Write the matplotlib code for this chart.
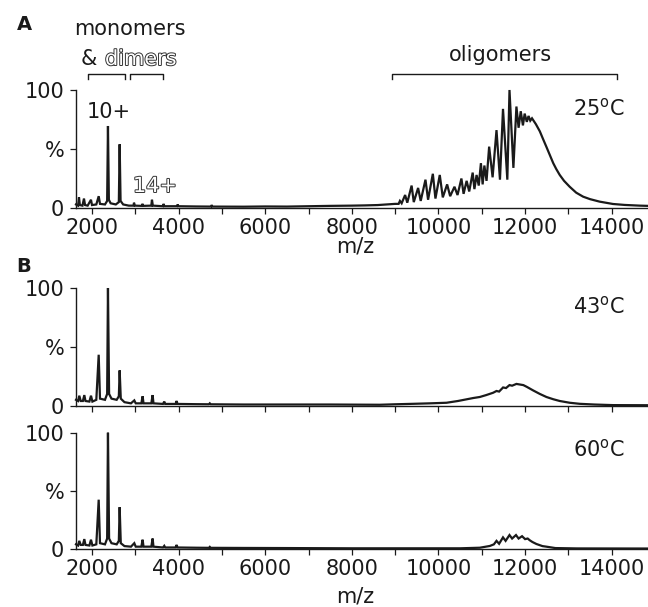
import matplotlib
matplotlib.use("Agg")
import matplotlib.pyplot as plt
import matplotlib.patheffects as pe
import matplotlib.transforms as mtransforms

plt.rcParams['font.family'] = ['DejaVu Sans']

# ---------------- data ----------------
# Panel A : 25 C
A_MZ = [1631, 1680, 1700, 1720, 1780, 1815, 1840, 1900, 1977, 2000, 2100, 2155, 2185,
        2300, 2350, 2369, 2390, 2430, 2550, 2620, 2639, 2660, 2720, 2850, 2960, 2970,
        2990, 3150, 3165, 3185, 3370, 3385, 3405, 3640, 3654, 3670, 3965, 3977, 3995,
        4400, 4750, 4765, 4780, 5500, 6000, 6500, 7000, 7500, 8000, 8300, 8600, 8800,
        9000, 9080, 9110, 9150, 9230, 9280, 9380, 9430, 9530, 9590, 9700, 9760, 9870,
        9930, 10030, 10100, 10200, 10270, 10370, 10440, 10530, 10580, 10650, 10710,
        10790, 10830, 10880, 10930, 10980, 11020, 11060, 11110, 11170, 11250, 11340,
        11420, 11490, 11590, 11640, 11730, 11800, 11850, 11900, 11950, 11990, 12040,
        12080, 12120, 12160, 12250, 12340, 12420, 12490, 12570, 12650, 12720, 12800,
        12900, 13030, 13180, 13340, 13500, 13720, 14030, 14300, 14650, 14838]
A_INT = [3, 2, 9, 2.5, 2, 8, 2.5, 2, 7, 2.5, 3, 10, 3.5,
         3, 6, 69.5, 7, 4, 3, 5, 54, 6, 3, 2, 2, 4.5,
         2, 1.8, 3.5, 1.8, 2, 7, 2, 1.5, 3.5, 1.5, 1.5, 3, 1.5,
         1.3, 1.2, 2.5, 1.2, 1.1, 1.3, 1.2, 1.5, 1.8, 2, 2.2, 2.5, 3,
         3.5, 3.5, 6, 4, 11, 4.5, 19, 5, 17, 6, 24, 7, 29,
         8, 28, 9, 20, 10, 18, 11, 25, 12, 23, 14,
         30, 16, 28, 19, 38, 20, 36, 23, 52, 26, 66,
         24, 84, 24, 100, 34, 86, 68, 82, 70, 80, 73,
         78, 74, 76, 71, 65, 58, 52, 45, 38, 33, 28,
         23, 18, 13, 9.6, 7.5, 5.4, 3.4, 2.6, 2, 1.8]

# Panel B : 43 C
B_MZ = [1631, 1680, 1707, 1740, 1790, 1823, 1850, 1940, 1977, 2010, 2100, 2155, 2185,
        2300, 2350, 2369, 2395, 2450, 2570, 2620, 2639, 2665, 2750, 2900, 2977, 3010,
        3140, 3169, 3190, 3370, 3400, 3420, 3640, 3669, 3690, 3930, 3954, 3975, 4400,
        4700, 4720, 4740, 5500, 6500, 7500, 8646, 9000, 9415, 9800, 10185, 10450, 10646,
        10800, 10954, 11100, 11262, 11340, 11400, 11492, 11560, 11640, 11700, 11800,
        11880, 11960, 12040, 12185, 12340, 12493, 12650, 12800, 13030, 13262, 13600,
        14031, 14838]
B_INT = [5, 4, 8.5, 4, 4, 9, 4, 3.5, 8.5, 3.5, 5, 43.3, 6,
         5, 10, 100, 10, 6, 5, 8, 30, 6, 3, 2, 4.5, 2,
         2, 8, 2, 2, 9, 2, 1.5, 3.5, 1.5, 1.5, 4, 1.5, 1.3,
         1.2, 2, 1.2, 1, 1, 1, 0.8, 1.2, 1.6, 2, 2.5, 4, 5.4,
         6.5, 7.4, 9, 11, 12.5, 12, 15.5, 15, 17.5, 17, 18.5,
         18, 17.5, 16, 13, 10, 7.4, 5.5, 4, 2.5, 1.6, 1,
         0.5, 0.4]

# Panel C : 60 C
C_MZ = [1631, 1680, 1707, 1740, 1790, 1823, 1850, 1940, 1977, 2010, 2100, 2155, 2185,
        2300, 2350, 2369, 2395, 2450, 2570, 2620, 2639, 2665, 2750, 2900, 2977, 3010,
        3140, 3169, 3190, 3370, 3400, 3420, 3640, 3669, 3690, 3930, 3954, 3975, 4400,
        4700, 4720, 4740, 5500, 6500, 8000, 10500, 10954, 11185, 11280, 11340, 11400,
        11490, 11550, 11640, 11700, 11790, 11850, 11930, 12000, 12060, 12108, 12170,
        12262, 12400, 12493, 12700, 13200, 14838]
C_INT = [4, 3, 7, 3.5, 3.5, 8.5, 3.5, 3, 8, 3, 4, 42.4, 5,
         4, 9, 100, 9, 5, 4, 7, 36, 5, 2.5, 2, 5, 2,
         2, 8, 2, 2, 9, 2, 1.3, 2.7, 1.3, 1.3, 3.5, 1.3, 1.1,
         1, 1.8, 1, 0.9, 0.8, 0.6, 0.6, 1.1, 2.6, 4, 7, 4.5,
         10, 7, 12, 9, 12, 9, 11, 8.5, 9, 7.5, 6,
         4.3, 2.5, 2, 0.8, 0.5, 0.4]

TEMPS = ["25", "43", "60"]
X_TICKS = list(range(2000, 15000, 1000))
X_RANGE = (1631, 14838)
MONO_RANGE = (1908, 2762)
DIMER_RANGE = (2877, 3640)
OLIGO_RANGE = (8921, 14131)

# ---------------- figure ----------------
W, H = 648, 607
fig = plt.figure(figsize=(W / 100, H / 100), dpi=100)
fig.patch.set_facecolor('white')

def fx(px):
    return px / W

def fy(py):
    return 1 - py / H

INK = '#1a1a1a'
FS = 15

def axes_px(top, bottom):
    return fig.add_axes([fx(76), fy(bottom), fx(648) - fx(76), (bottom - top) / H])

axA = axes_px(90, 208)
axB = axes_px(288, 405.7)
axC = axes_px(432.7, 549)

for ax, mz, inten, show_x in [(axA, A_MZ, A_INT, True), (axB, B_MZ, B_INT, False),
                              (axC, C_MZ, C_INT, True)]:
    ax.plot(mz, inten, color=INK, lw=1.6, clip_on=False, solid_joinstyle='miter')
    ax.set_xlim(*X_RANGE)
    ax.set_ylim(0, 100)
    for s in ['top', 'right']:
        ax.spines[s].set_visible(False)
    for s in ['left', 'bottom']:
        ax.spines[s].set_linewidth(1.0)
        ax.spines[s].set_color(INK)
    ax.set_xticks(X_TICKS)
    if show_x:
        ax.set_xticklabels([str(v) if v % 2000 == 0 else '' for v in X_TICKS])
    else:
        ax.set_xticklabels(['' for v in X_TICKS])
    ax.set_yticks([0, 50, 100])
    ax.set_yticklabels(['0', '%', '100'])
    ax.tick_params(axis='both', direction='out', length=4.5, width=0.9, color=INK,
                   labelsize=FS, labelcolor=INK)
    ax.tick_params(axis='y', pad=4)
    ax.tick_params(axis='x', pad=3)
    ax.patch.set_alpha(0)

for ax, ycoord in [(axA, -0.33), (axC, -0.41)]:
    ax.set_xlabel('m/z', fontsize=FS, color=INK)
    ax.xaxis.set_label_coords(0.488, ycoord)
    ax.xaxis.label.set_va('center')

# temperature labels
for ax_py, t in zip([115, 313, 456], TEMPS):
    fig.text(fx(599), fy(ax_py), t + r'$^{\mathrm{o}}$C', fontsize=FS, color=INK,
             ha='center', va='baseline')

# panel letters
fig.text(fx(24), fy(24), 'A', fontsize=14, fontweight='bold', color=INK,
         ha='center', va='center')
fig.text(fx(24), fy(266), 'B', fontsize=14, fontweight='bold', color=INK,
         ha='center', va='center')

outline = [pe.Stroke(linewidth=1.4, foreground='#333333'), pe.Normal()]

fig.text(fx(130), fy(35), 'monomers', fontsize=FS, color=INK, ha='center', va='baseline')
fig.text(fx(81), fy(65), '&', fontsize=FS, color=INK, ha='left', va='baseline')
fig.text(fx(105), fy(65), 'dimers', fontsize=FS, color='white', ha='left',
         va='baseline', path_effects=outline)
fig.text(fx(500), fy(61), 'oligomers', fontsize=FS, color=INK, ha='center', va='baseline')

fig.text(fx(109), fy(118), '10+', fontsize=FS, color=INK, ha='center', va='baseline')
fig.text(fx(155), fy(192), '14+', fontsize=FS, color='white', ha='center',
         va='baseline', path_effects=outline)

# brackets (x in data units, y in axes fraction of panel A)
trans = mtransforms.blended_transform_factory(axA.transData, axA.transAxes)
y_top = (208 - 74) / 118
y_bot = (208 - 79) / 118
for lo, hi in [MONO_RANGE, DIMER_RANGE, OLIGO_RANGE]:
    axA.plot([lo, lo, hi, hi], [y_bot, y_top, y_top, y_bot], transform=trans,
             color=INK, lw=1.0, clip_on=False)

fig.savefig('out.png', dpi=100, facecolor='white')
